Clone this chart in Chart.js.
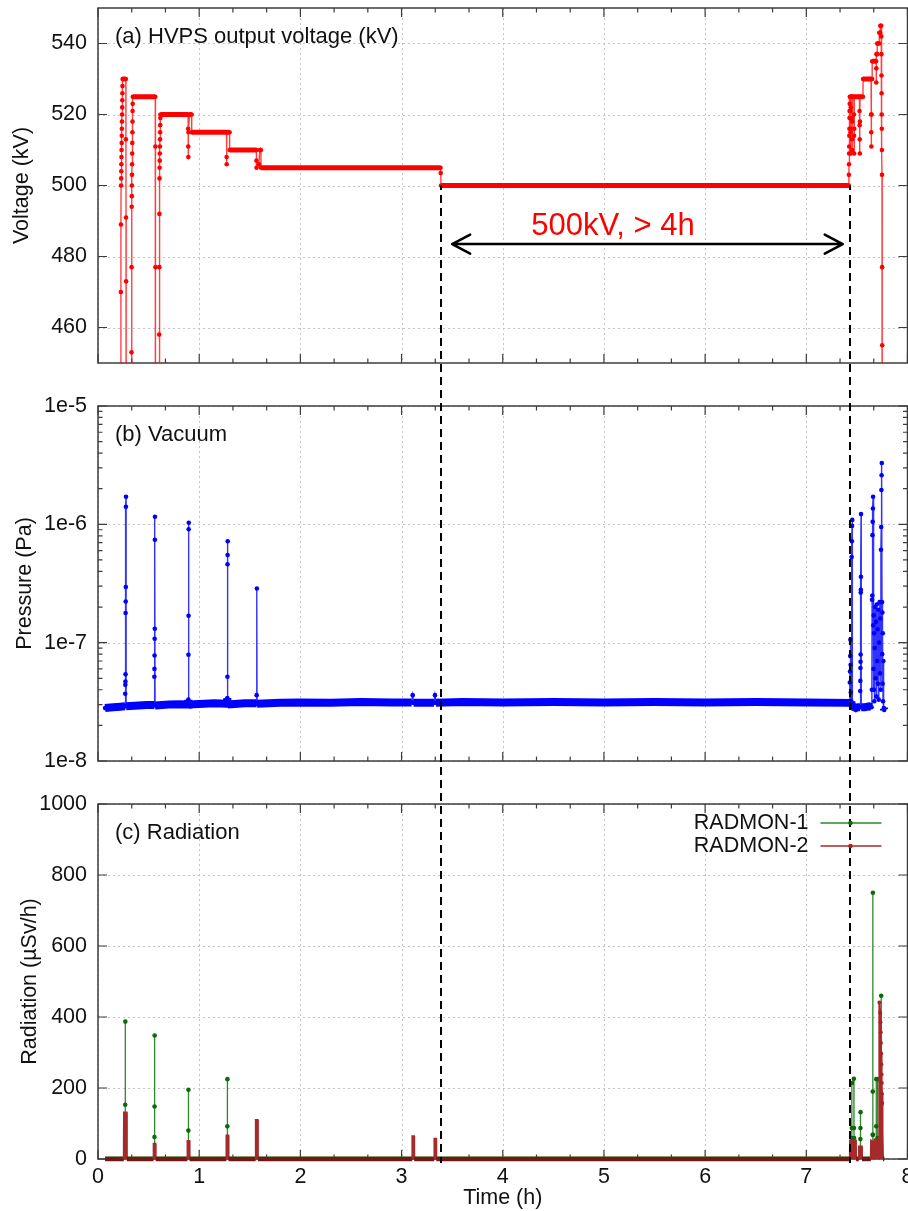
<!DOCTYPE html>
<html>
<head>
<meta charset="utf-8">
<title>HVPS 500 kV long run</title>
<script src="https://cdn.jsdelivr.net/npm/chart.js@4.4.1/dist/chart.umd.min.js"></script>
<style>
  html, body { margin: 0; padding: 0; background: #fff; overflow: hidden; }
  #wrap { position: relative; width: 908px; height: 1211px; overflow: hidden; }
  #wrap canvas { position: absolute; left: 0; }
</style>
</head>
<body>
<div id="wrap">
  <canvas id="voltageChart" width="930" height="385" style="top:0"></canvas>
  <canvas id="vacuumChart" width="930" height="398" style="top:385px"></canvas>
  <canvas id="radiationChart" width="930" height="428" style="top:783px"></canvas>
</div>
<script>
// Shared time axis (h)
const timeTicks = [0, 1, 2, 3, 4, 5, 6, 7, 8]

// (a) HVPS output voltage
const voltageTicks = [460, 480, 500, 520, 540]
const voltageTime = [
  0.224, 0.226, 0.227, 0.228, 0.229, 0.230, 0.231, 0.232, 0.233, 0.234, 0.235, 0.236, 0.237, 0.238, 0.239, 0.240, 0.241, 0.242, 0.243, 0.275, 0.276, 0.277, 0.278, 0.279,
  0.330, 0.331, 0.332, 0.333, 0.334, 0.335, 0.336, 0.337, 0.338, 0.339, 0.340, 0.341, 0.342, 0.343, 0.344, 0.566, 0.567, 0.568, 0.569,
  0.604, 0.605, 0.606, 0.607, 0.608, 0.609, 0.610, 0.611, 0.612, 0.613, 0.614, 0.615, 0.616, 0.617,
  0.890, 0.891, 0.892, 0.893, 0.895, 0.905, 0.925, 0.926, 1.270, 1.271, 1.272, 1.274, 1.300, 1.301,
  1.565, 1.566, 1.567, 1.590, 1.600, 1.610, 1.611, 3.385, 3.387, 3.390, 7.420,
  7.421, 7.422, 7.423, 7.424, 7.425, 7.426, 7.427, 7.428, 7.429, 7.430,
  7.435, 7.436, 7.437, 7.438, 7.439, 7.440, 7.441, 7.450, 7.451, 7.452, 7.453, 7.454, 7.455,
  7.470, 7.471, 7.472, 7.473, 7.474, 7.475, 7.525, 7.526, 7.527, 7.528, 7.529, 7.530, 7.531,
  7.560, 7.561, 7.640, 7.641, 7.642, 7.643, 7.644, 7.645, 7.650, 7.651, 7.690, 7.691, 7.692, 7.693,
  7.700, 7.701, 7.720, 7.721, 7.730, 7.731, 7.740, 7.741, 7.742, 7.743, 7.744, 7.745, 7.746, 7.747, 7.748, 7.749, 7.750, 7.751,
]
const voltageKV = [
  300, 470, 489, 500, 502, 504, 506, 508, 510, 512, 514, 516, 518, 520, 522, 524, 526, 528, 530, 530, 513, 491, 473, 300,
  300, 453, 477, 494, 497, 500, 503, 506, 509, 512, 515, 518, 521, 523, 525, 525, 511, 477, 300,
  300, 458, 477, 492, 502, 505, 507, 509, 511, 513, 515, 517, 519, 520,
  520, 516, 511, 508, 515, 520, 520, 515, 515, 508, 506, 515, 515, 510,
  510, 507, 505, 506, 510, 510, 505, 505, 503.5, 500, 500,
  503, 506, 509, 511, 514, 516, 519, 521, 523, 525,
  525, 521, 515, 509, 516, 522, 525, 525, 519, 513, 510, 518, 525,
  525, 520, 514, 509, 516, 525, 525, 521, 517, 513, 509, 518, 525,
  525, 530, 530, 520, 515, 511, 520, 530, 530, 535, 535, 529, 533, 537,
  537, 540, 540, 543, 543, 545, 545, 542, 537, 531, 526, 520, 516, 510, 503, 477, 455, 300,
]

// (b) Vacuum
const pressureTicks = [1e-8, 1e-7, 1e-6, 1e-5]
const pressureTime = [
  0.07, 0.15, 0.22, 0.268,
  0.269, 0.270, 0.271, 0.272, 0.273, 0.274, 0.275, 0.276, 0.277, 0.278,
  0.40, 0.48, 0.556,
  0.557, 0.558, 0.559, 0.560, 0.561, 0.562, 0.563, 0.564,
  0.70, 0.80, 0.892,
  0.893, 0.894, 0.895, 0.896, 0.897, 0.898,
  1.05, 1.15, 1.277,
  1.278, 1.279, 1.280, 1.281, 1.282, 1.283,
  1.45, 1.567,
  1.568, 1.570, 1.572,
  1.8, 2.0, 2.3, 2.6, 2.9, 3.10, 3.11, 3.12, 3.32, 3.33, 3.34, 3.6, 4.0, 4.5, 5.0, 5.5, 6.0, 6.5, 7.0, 7.42,
  7.428, 7.430, 7.432, 7.434, 7.436, 7.438, 7.440, 7.442, 7.446, 7.448, 7.450, 7.452, 7.454, 7.456,
  7.49, 7.51, 7.532,
  7.533, 7.534, 7.535, 7.536, 7.537, 7.538, 7.539, 7.540, 7.541, 7.543,
  7.58, 7.62, 7.645,
  7.648, 7.650, 7.652, 7.654, 7.656, 7.658, 7.660, 7.662, 7.664, 7.666, 7.668, 7.670, 7.672, 7.676, 7.680,
  7.684, 7.688, 7.692, 7.696, 7.700, 7.704, 7.708, 7.712, 7.716, 7.720, 7.724, 7.728, 7.732, 7.736,
  7.738, 7.740, 7.742, 7.744, 7.746, 7.748, 7.750, 7.752, 7.754, 7.756, 7.758, 7.762, 7.766, 7.770,
]
const pressurePa = [
  2.80e-8, 2.85e-8, 2.88e-8, 2.9e-8,
  3.7e-8, 4.4e-8, 4.7e-8, 5.4e-8, 1.78e-7, 2.23e-7, 2.95e-7, 1.41e-6, 1.71e-6, 2.9e-8,
  2.95e-8, 2.97e-8, 2.98e-8,
  5.15e-8, 6.0e-8, 7.8e-8, 1.08e-7, 1.31e-7, 7.4e-7, 1.16e-6, 2.95e-8,
  3.0e-8, 3.02e-8, 3.0e-8,
  3.3e-8, 7.9e-8, 1.69e-7, 9.1e-7, 1.03e-6, 3.0e-8,
  3.05e-8, 3.07e-8, 3.05e-8,
  3.4e-8, 5.15e-8, 4.6e-7, 5.5e-7, 7.2e-7, 3.0e-8,
  3.08e-8, 3.08e-8,
  3.6e-8, 2.87e-7, 3.05e-8,
  3.1e-8, 3.12e-8, 3.1e-8, 3.15e-8, 3.12e-8, 3.12e-8, 3.6e-8, 3.1e-8, 3.1e-8, 3.6e-8, 3.1e-8, 3.15e-8, 3.12e-8, 3.15e-8, 3.12e-8, 3.15e-8, 3.12e-8, 3.15e-8, 3.12e-8, 3.1e-8,
  3.0e-8, 4.6e-8, 5.7e-8, 7.7e-8, 1.06e-7, 6.5e-8, 3.8e-8, 2.9e-8, 3.2e-8, 5.3e-7, 7.2e-7, 9.7e-7, 1.09e-6, 2.9e-8,
  2.8e-8, 2.85e-8, 2.85e-8,
  3.9e-8, 4.75e-8, 6.1e-8, 6.9e-8, 7.95e-8, 2.65e-7, 2.8e-7, 3.6e-7, 1.22e-6, 2.85e-8,
  2.85e-8, 2.9e-8, 2.85e-8,
  4.0e-8, 2.3e-7, 2.5e-7, 8.1e-7, 1.05e-6, 1.36e-6, 1.71e-6, 1.4e-7, 6.0e-8, 1.7e-7, 4.0e-8, 1.2e-7, 3.2e-8, 9.0e-8, 2.0e-7,
  5.0e-8, 1.5e-7, 3.5e-8, 2.1e-7, 7.0e-8, 1.3e-7, 4.5e-8, 1.9e-7, 3.3e-8, 1.0e-7, 2.2e-7, 5.5e-8, 1.6e-7, 4.0e-8,
  6.1e-7, 9.5e-7, 1.95e-6, 2.6e-6, 3.3e-6, 2.2e-7, 8.0e-8, 1.8e-7, 4.5e-8, 1.2e-7, 3.2e-8, 7.0e-8, 2.8e-8, 2.7e-8,
]

// (c) Radiation
const radiationTicks = [0, 200, 400, 600, 800, 1000]
const radmon1Time = [
  0.07, 0.268, 0.269, 0.270, 0.271,
  0.557, 0.558, 0.559, 0.560, 0.561,
  0.892, 0.893, 0.894, 0.895,
  1.277, 1.278, 1.279, 1.280,
  2.5, 4.0, 5.5, 7.448,
  7.449, 7.450, 7.451, 7.470, 7.471, 7.472, 7.473,
  7.533, 7.534, 7.535, 7.536, 7.537,
  7.655, 7.656, 7.657, 7.658, 7.659, 7.660, 7.690, 7.691, 7.692, 7.705, 7.706, 7.707, 7.738, 7.739, 7.740, 7.741, 7.770,
]
const radmon1 = [
  5, 5, 153, 387, 5,
  5, 62, 148, 348, 5,
  5, 80, 195, 5,
  5, 92, 225, 5,
  5, 5, 5, 5,
  59, 87, 214, 226, 87, 59, 5,
  5, 56, 87, 132, 5,
  5, 68, 190, 750, 68, 40, 40, 92, 225, 225, 59, 40, 40, 153, 460, 5, 5,
]
const radmon2Time = [
  0.07, 0.255, 0.257, 0.283, 0.285,
  0.548, 0.550, 0.568, 0.570,
  0.883, 0.885, 0.903, 0.905,
  1.268, 1.270, 1.288, 1.290,
  1.558, 1.560, 1.578, 1.580,
  3.105, 3.107, 3.123, 3.125,
  3.323, 3.325, 3.341, 3.343,
  7.430, 7.432, 7.490, 7.492,
  7.518, 7.520, 7.548, 7.550,
  7.638, 7.640, 7.660, 7.680, 7.700, 7.712, 7.720,
  7.722, 7.730, 7.733, 7.736, 7.738, 7.740, 7.742, 7.744, 7.746, 7.748, 7.750, 7.752, 7.754, 7.756, 7.758, 7.770,
]
const radmon2 = [
  0, 0, 131, 131, 0,
  0, 43, 43, 0,
  0, 51, 51, 0,
  0, 66, 66, 0,
  0, 110, 110, 0,
  0, 64, 64, 0,
  0, 57, 57, 0,
  0, 52, 52, 0,
  0, 35, 35, 0,
  0, 52, 48, 56, 50, 52, 60,
  441, 412, 385, 357, 327, 297, 266, 238, 214, 184, 158, 132, 106, 73, 0, 0,
]

// Annotation (data units)
const markTimes = [3.39, 7.435]
const markFromKV = 500
const arrowSpan = [3.5, 7.36]
const arrowKV = 483.5
const noteText = "500kV, > 4h"
const noteAt = [5.09, 488.5]

const FONT = '"Liberation Sans", Arial, Helvetica, sans-serif'
const INK = "#111"
const FRAME = "#3c3c3c"
const GRID = "#c4c4c4"
const PLOT_LEFT = 98
const RIGHT_PAD = 22.5
const PANEL_TOPS = [0, 385, 783]

const timeMinor = []
for (let h = 0; h < 8; h++) timeMinor.push(h + 1 / 3, h + 2 / 3)
const pressureMinor = []
for (let e = -8; e < -5; e++) for (let m = 2; m < 10; m++) pressureMinor.push(m * Math.pow(10, e))

const toPoints = (xs, ys) => xs.map((x, i) => ({ x: x, y: ys[i] }))
const fixedTicks = (list) => (scale) => {
  scale.ticks = list.map((v) => ({ value: v }))
}

// gnuplot style dotted grid, frame, inward ticks on all four sides, panel label
function panelDecor(opts) {
  return {
    id: "panelDecor",
    beforeDatasetsDraw(chart) {
      const { ctx, chartArea: a, scales } = chart
      const yMinor = opts.yMinor || []
      ctx.save()

      // dotted grid at the major ticks
      ctx.strokeStyle = GRID
      ctx.lineWidth = 1
      ctx.setLineDash([2, 3])
      ctx.beginPath()
      timeTicks.forEach((v) => {
        const px = Math.round(scales.x.getPixelForValue(v)) + 0.5
        ctx.moveTo(px, a.top)
        ctx.lineTo(px, a.bottom)
      })
      opts.yTicks.forEach((v) => {
        const py = Math.round(scales.y.getPixelForValue(v)) + 0.5
        ctx.moveTo(a.left, py)
        ctx.lineTo(a.right, py)
      })
      ctx.stroke()
      ctx.setLineDash([])

      ctx.strokeStyle = FRAME
      ctx.lineWidth = 1.2
      ctx.beginPath()
      const tickX = (v, len) => {
        const px = scales.x.getPixelForValue(v)
        ctx.moveTo(px, a.bottom)
        ctx.lineTo(px, a.bottom - len)
        ctx.moveTo(px, a.top)
        ctx.lineTo(px, a.top + len)
      }
      const tickY = (v, len) => {
        const py = scales.y.getPixelForValue(v)
        ctx.moveTo(a.left, py)
        ctx.lineTo(a.left + len, py)
        ctx.moveTo(a.right, py)
        ctx.lineTo(a.right - len, py)
      }
      timeTicks.forEach((v) => tickX(v, 9))
      timeMinor.forEach((v) => tickX(v, 4.5))
      opts.yTicks.forEach((v) => tickY(v, 9))
      yMinor.forEach((v) => tickY(v, 4.5))
      ctx.stroke()
      ctx.lineWidth = 1.5
      ctx.strokeRect(a.left, a.top, a.right - a.left, a.bottom - a.top)

      ctx.fillStyle = INK
      ctx.font = `22px ${FONT}`
      ctx.textAlign = "left"
      ctx.textBaseline = "middle"
      ctx.fillText(opts.label, a.left + 17, a.top + 29)
      ctx.restore()
    },
    afterDatasetsDraw(chart) {
      if (opts.overlay) opts.overlay(chart)
    },
  }
}

// dashed markers that run through all three panels
function drawMarks(chart, fromY, toY, panelTop) {
  const { ctx, scales } = chart
  ctx.save()
  ctx.strokeStyle = "#000"
  ctx.lineWidth = 2
  ctx.setLineDash([8, 5])
  ctx.lineDashOffset = (panelTop + fromY) % 13
  markTimes.forEach((t) => {
    const px = Math.round(scales.x.getPixelForValue(t))
    ctx.beginPath()
    ctx.moveTo(px, fromY)
    ctx.lineTo(px, toY)
    ctx.stroke()
  })
  ctx.restore()
}

function panelOptions(p) {
  const font = { family: FONT, size: 21.5 }
  return {
    responsive: false,
    animation: false,
    devicePixelRatio: 1,
    events: [],
    layout: { padding: { top: p.padTop, bottom: p.padBottom, left: 0, right: RIGHT_PAD } },
    plugins: { legend: { display: false }, tooltip: { enabled: false } },
    scales: {
      x: {
        type: "linear",
        min: 0,
        max: 8,
        afterBuildTicks: fixedTicks(timeTicks),
        afterFit: (s) => {
          s.height = p.showTime ? 52 : 0
          s.paddingLeft = 0
          s.paddingRight = 0
        },
        grid: { display: false, drawTicks: false },
        border: { display: false },
        ticks: {
          display: p.showTime,
          autoSkip: false,
          maxRotation: 0,
          padding: 5,
          color: INK,
          font: font,
          callback: (v) => String(v),
        },
        title: { display: p.showTime, text: "Time (h)", color: INK, font: font, padding: { top: 0, bottom: 0 } },
      },
      y: {
        type: p.yType,
        min: p.yMin,
        max: p.yMax,
        afterBuildTicks: fixedTicks(p.yTicks),
        afterFit: (s) => {
          s.width = PLOT_LEFT
          s.paddingTop = 0
          s.paddingBottom = 0
        },
        grid: { display: false, drawTicks: false },
        border: { display: false },
        ticks: { autoSkip: false, padding: 11, color: INK, font: font, callback: p.yFormat },
        title: { display: true, text: p.yTitle, color: INK, font: font, padding: { top: p.titlePad, bottom: 0 } },
      },
    },
  }
}

// (a) voltage
new Chart(document.getElementById("voltageChart"), {
  type: "line",
  data: {
    datasets: [
      {
        label: "HVPS output voltage",
        data: toPoints(voltageTime, voltageKV),
        borderColor: "rgba(255,0,0,0.75)",
        borderWidth: 1.4,
        pointRadius: 2.3,
        pointBorderWidth: 0,
        pointBackgroundColor: "#ff0000",
        segment: {
          borderWidth: (c) => (c.p0.parsed.y === c.p1.parsed.y ? 5 : 1.4),
          borderColor: (c) => (c.p0.parsed.y === c.p1.parsed.y ? "#ff0000" : "rgba(255,0,0,0.75)"),
        },
      },
    ],
  },
  options: panelOptions({
    padTop: 8,
    padBottom: 22,
    showTime: false,
    yType: "linear",
    yMin: 450,
    yMax: 550,
    yTicks: voltageTicks,
    yFormat: (v) => String(v),
    yTitle: "Voltage (kV)",
    titlePad: 9,
  }),
  plugins: [
    panelDecor({
      label: "(a) HVPS output voltage (kV)",
      yTicks: voltageTicks,
      overlay: (chart) => {
        const { ctx, scales } = chart
        drawMarks(chart, scales.y.getPixelForValue(markFromKV), chart.height, PANEL_TOPS[0])
        const y = scales.y.getPixelForValue(arrowKV)
        const x1 = scales.x.getPixelForValue(arrowSpan[0])
        const x2 = scales.x.getPixelForValue(arrowSpan[1])
        ctx.save()
        ctx.strokeStyle = "#000"
        ctx.lineWidth = 2.5
        ctx.lineJoin = "round"
        ctx.lineCap = "round"
        ctx.beginPath()
        ctx.moveTo(x1, y)
        ctx.lineTo(x2, y)
        ctx.moveTo(x1 + 18, y - 9.5)
        ctx.lineTo(x1, y)
        ctx.lineTo(x1 + 18, y + 9.5)
        ctx.moveTo(x2 - 18, y - 9.5)
        ctx.lineTo(x2, y)
        ctx.lineTo(x2 - 18, y + 9.5)
        ctx.stroke()
        ctx.fillStyle = "#ff0000"
        ctx.font = `31px ${FONT}`
        ctx.textAlign = "center"
        ctx.textBaseline = "middle"
        ctx.fillText(noteText, scales.x.getPixelForValue(noteAt[0]), scales.y.getPixelForValue(noteAt[1]))
        ctx.restore()
      },
    }),
  ],
})

// (b) vacuum
new Chart(document.getElementById("vacuumChart"), {
  type: "line",
  data: {
    datasets: [
      {
        label: "Pressure",
        data: toPoints(pressureTime, pressurePa),
        borderColor: "rgba(0,0,255,0.8)",
        borderWidth: 1.4,
        pointRadius: 2.3,
        pointBorderWidth: 0,
        pointBackgroundColor: "#0000ff",
        segment: {
          borderWidth: (c) => (c.p0.parsed.y < 3.5e-8 && c.p1.parsed.y < 3.5e-8 ? 8 : 1.4),
          borderColor: (c) => (c.p0.parsed.y < 3.5e-8 && c.p1.parsed.y < 3.5e-8 ? "#0000ff" : "rgba(0,0,255,0.8)"),
        },
      },
    ],
  },
  options: panelOptions({
    padTop: 21,
    padBottom: 22,
    showTime: false,
    yType: "logarithmic",
    yMin: 1e-8,
    yMax: 1e-5,
    yTicks: pressureTicks,
    yFormat: (v) => Number(v).toExponential(0),
    yTitle: "Pressure (Pa)",
    titlePad: 12,
  }),
  plugins: [
    panelDecor({
      label: "(b) Vacuum",
      yTicks: pressureTicks,
      yMinor: pressureMinor,
      overlay: (chart) => drawMarks(chart, 0, chart.height, PANEL_TOPS[1]),
    }),
  ],
})

// (c) radiation
const radmonColors = ["#2a8a2a", "#a52a2a"]
new Chart(document.getElementById("radiationChart"), {
  type: "line",
  data: {
    datasets: [
      {
        label: "RADMON-1",
        order: 1,
        clip: 4,
        data: toPoints(radmon1Time, radmon1),
        borderColor: radmonColors[0],
        borderWidth: 1.3,
        pointRadius: (c) => (c.raw && c.raw.y > 20 ? 2.3 : 0),
        pointBorderWidth: 0,
        pointBackgroundColor: "#0c6a0c",
      },
      {
        label: "RADMON-2",
        order: 0,
        clip: 4,
        data: toPoints(radmon2Time, radmon2),
        borderColor: radmonColors[1],
        backgroundColor: radmonColors[1],
        fill: "origin",
        borderWidth: 2,
        pointRadius: (c) => (c.raw && c.raw.y > 150 ? 2 : 0),
        pointBorderWidth: 0,
        pointBackgroundColor: "#b02020",
        segment: {
          borderWidth: (c) => (c.p0.parsed.y === 0 && c.p1.parsed.y === 0 ? 4.5 : 2),
          borderColor: (c) => (c.p0.parsed.y === 0 && c.p1.parsed.y === 0 ? "#701818" : radmonColors[1]),
        },
      },
    ],
  },
  options: panelOptions({
    padTop: 21,
    padBottom: 0,
    showTime: true,
    yType: "linear",
    yMin: 0,
    yMax: 1000,
    yTicks: radiationTicks,
    yFormat: (v) => String(v),
    yTitle: "Radiation (\u00b5Sv/h)",
    titlePad: 17,
  }),
  plugins: [
    panelDecor({
      label: "(c) Radiation",
      yTicks: radiationTicks,
      overlay: (chart) => {
        const { ctx, chartArea: a } = chart
        drawMarks(chart, 0, a.bottom + 4, PANEL_TOPS[2])
        // legend, gnuplot style: text then sample
        ctx.save()
        ctx.font = `21.5px ${FONT}`
        ctx.textAlign = "right"
        ctx.textBaseline = "middle"
        chart.data.datasets.forEach((ds, i) => {
          const y = a.top + 19 + i * 23
          ctx.fillStyle = INK
          ctx.fillText(ds.label, a.right - 99, y)
          ctx.strokeStyle = radmonColors[i]
          ctx.lineWidth = 1.5
          ctx.beginPath()
          ctx.moveTo(a.right - 87, y)
          ctx.lineTo(a.right - 26, y)
          ctx.stroke()
          ctx.fillStyle = i === 0 ? "#0c6a0c" : "#b02020"
          ctx.beginPath()
          ctx.arc(a.right - 57, y, 2.3, 0, Math.PI * 2)
          ctx.fill()
        })
        ctx.restore()
      },
    }),
  ],
})
</script>
</body>
</html>
